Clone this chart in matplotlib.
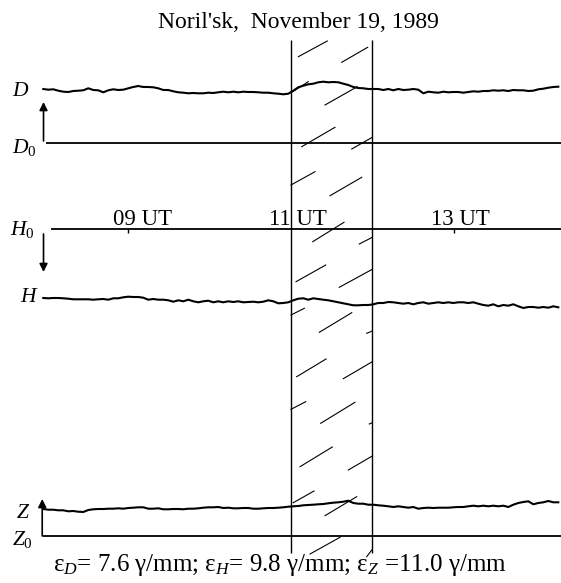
import numpy as np
import matplotlib.pyplot as plt

plt.rcParams['font.family'] = ['Liberation Serif', 'DejaVu Serif']
plt.rcParams['mathtext.fontset'] = 'custom'
plt.rcParams['mathtext.rm'] = 'Liberation Serif'
plt.rcParams['mathtext.it'] = 'Liberation Serif:italic'

# magnetogram traces digitized every ~0.06 h (5 px of the record)
ut = np.linspace(7.953, 14.288, 104)

# D: deflection upward from D0 line (px of record)
d_trace = [54.3, 53.6, 54.0, 52.6, 51.6, 51.3, 52.3, 52.6, 53.0, 55.0,
           53.3, 53.0, 51.0, 53.0, 54.0, 53.3, 53.6, 55.0, 56.3, 57.3,
           56.3, 56.3, 56.0, 55.0, 53.3, 53.3, 52.0, 51.0, 50.6, 50.0,
           50.3, 50.0, 50.0, 50.6, 50.3, 51.0, 51.6, 51.0, 51.6, 51.0,
           51.6, 51.3, 51.3, 51.0, 50.6, 50.6, 50.0, 49.6, 49.0, 49.6,
           52.6,
           56.0, 57.6, 59.0, 59.6, 61.0, 61.6, 61.0, 61.3, 61.0, 59.6,
           58.3, 56.3, 55.3, 55.0, 54.3, 54.3, 54.3, 53.3, 54.3, 53.0,
           54.3, 53.3, 53.6, 54.3, 53.6, 50.0, 51.6, 51.0, 50.6, 51.6,
           51.0, 51.3, 51.3, 50.6, 51.3, 52.0, 51.6, 52.3, 52.3, 53.0,
           52.6, 53.0, 52.3, 53.3, 53.0, 53.0, 52.3, 52.6, 54.0, 54.6,
           55.6, 56.3, 56.6]

# H: deflection downward from H0 line
h_trace = [69.3, 69.6, 69.3, 69.3, 69.6, 70.0, 70.6, 70.6, 70.6, 70.6,
           71.0, 70.6, 70.3, 71.0, 69.6, 69.6, 68.6, 68.0, 68.3, 68.3,
           69.0, 71.0, 70.3, 71.0, 71.0, 71.6, 73.0, 71.6, 72.6, 71.0,
           72.6, 73.6, 72.6, 72.0, 73.6, 72.6, 73.6, 72.6, 73.3, 72.6,
           73.6, 73.3, 73.0, 73.6, 73.0, 71.6, 72.6, 74.6, 74.3, 73.6,
           71.6,
           70.0, 69.6, 71.0, 69.6, 70.3, 71.0, 71.6, 72.6, 73.6, 74.6,
           75.6, 76.6, 76.6, 76.3, 76.3, 75.6, 74.3, 74.3, 73.3, 73.6,
           74.3, 75.0, 74.3, 75.6, 74.3, 73.6, 75.0, 74.3, 73.6, 74.3,
           73.6, 74.3, 73.6, 73.6, 74.3, 73.6, 75.0, 76.3, 77.0, 75.6,
           77.6, 76.3, 77.0, 75.6, 77.6, 79.3, 78.3, 78.3, 79.0, 78.3,
           79.0, 77.6, 78.6]

# Z: deflection upward from Z0 line
z_trace = [27.0, 26.3, 26.3, 25.7, 25.7, 24.7, 25.0, 24.3, 24.0, 26.0,
           26.7, 27.0, 27.0, 27.3, 27.3, 27.7, 27.3, 28.0, 28.3, 28.7,
           28.7, 27.3, 27.3, 27.7, 26.7, 26.7, 27.0, 27.0, 26.7, 27.3,
           27.3, 27.7, 28.3, 28.7, 28.7, 29.0, 28.0, 28.3, 27.7, 27.7,
           28.0, 28.0, 27.3, 27.3, 27.7, 28.0, 28.0, 28.3, 28.7, 29.3,
           29.7,
           30.0, 30.7, 31.0, 31.3, 31.7, 32.0, 32.7, 33.3, 33.7, 34.3,
           35.3, 33.0, 32.3, 32.3, 31.3, 31.3, 30.7, 30.3, 29.7, 29.0,
           29.7, 29.0, 28.3, 29.0, 27.3, 28.0, 28.3, 28.0, 28.3, 28.3,
           28.3, 28.7, 29.0, 29.0, 29.7, 30.3, 29.7, 30.3, 29.7, 30.3,
           29.7, 30.3, 29.0, 31.3, 33.0, 34.0, 34.7, 31.7, 33.0, 33.7,
           35.0, 33.7, 33.7]

storm_start, storm_end = 11.0, 12.0
hour_ticks = [9, 11, 13]
hour_labels = ['09 UT', '11 UT', '13 UT']

# slanted hatch strokes inside the 11-12 UT band (time, record px)
hatch_t0 = [11.090, 11.624, 11.021, 11.418, 11.132, 11.747, 11.0, 11.480, 11.267,
            11.840, 11.062, 11.594, 11.0, 11.348, 11.931, 11.070, 11.643, 11.0,
            11.365, 11.963, 11.111, 11.705, 11.028, 11.418, 11.234, 11.931]
hatch_y0 = [56.7, 62.3, 91.7, 105.0, 146.7, 149.0, 185.0, 195.7, 241.7,
            244.0, 281.7, 287.3, 315.0, 332.3, 333.3, 376.7, 378.7, 409.3,
            423.3, 424.0, 466.7, 470.0, 502.7, 515.7, 554.0, 556.7]
hatch_t1 = [11.446, 11.943, 11.213, 11.815, 11.541, 12.0, 11.295, 11.870, 11.652,
            12.0, 11.427, 12.0, 11.164, 11.747, 12.0, 11.431, 12.0, 11.181,
            11.787, 12.0, 11.508, 12.0, 11.283, 11.808, 11.603, 12.0]
hatch_y1 = [41.0, 47.3, 81.7, 86.7, 127.3, 137.3, 171.7, 177.3, 222.3,
            237.3, 265.0, 269.3, 308.3, 312.7, 331.0, 359.0, 361.7, 401.7,
            402.3, 422.7, 447.0, 456.0, 491.0, 496.7, 537.3, 549.3]

D0, H0, Z0 = 143.3, 228.7, 536.0
x_left, x_right = 7.4207, 14.321

fig = plt.figure(figsize=(5.61, 5.83), dpi=100)
ax = fig.add_axes([0, 0, 1, 1])
ax.set_xlim(x_left, x_right)
ax.set_ylim(583, 0)
ax.axis('off')

# traces
ax.plot(ut, D0 - np.array(d_trace), color='k', lw=1.5)
ax.plot(ut, H0 + np.array(h_trace), color='k', lw=1.5)
ax.plot(ut, Z0 - np.array(z_trace), color='k', lw=1.5)

# baselines
ax.hlines([D0, H0, Z0], [7.99, 8.05, 7.95], x_right, color='k', lw=1.3)

# storm band
ax.vlines([storm_start, storm_end], 40, 553, color='k', lw=1.0)
for a, b, c, d in zip(hatch_t0, hatch_y0, hatch_t1, hatch_y1):
    ax.plot([a, c], [b, d], color='k', lw=0.8)

# time ticks on H0 line
ax.vlines([t for t in hour_ticks if t != storm_start], H0, H0 + 4, color='k', lw=1.0)
for t, lab, sh in zip(hour_ticks, hour_labels, [0.17, 0.08, 0.08]):
    ax.text(t + sh, H0 - 4, lab, ha='center', va='baseline', fontsize=16.5)

# direction arrows
arrow = dict(arrowstyle='-|>', color='k', lw=1.2, mutation_scale=12,
             shrinkA=0, shrinkB=0)
ax.annotate('', xy=(7.956, 102), xytext=(7.956, 141), arrowprops=arrow)
ax.annotate('', xy=(7.956, 272), xytext=(7.956, 234), arrowprops=arrow)
ax.annotate('', xy=(7.94, 499), xytext=(7.94, 536), arrowprops=arrow)

# component labels
ax.text(7.574, 91, '$D$', ha='left', va='center', fontsize=15.5)
ax.text(7.574, 147, '$D_0$', ha='left', va='center', fontsize=15.5)
ax.text(7.544, 230, '$H_0$', ha='left', va='center', fontsize=15.5)
ax.text(7.662, 298, '$H$', ha='left', va='center', fontsize=15.5)
ax.text(7.617, 514, '$Z$', ha='left', va='center', fontsize=15.5)
ax.text(7.574, 540, '$Z_0$', ha='left', va='center', fontsize=15.5)

fig.text(298 / 561, 1 - 28 / 583, "Noril'sk,  November 19, 1989",
         ha='center', va='baseline', fontsize=17)
fig.text(280 / 561, 1 - 571 / 583,
         'ε$_D$= 7.6 γ/mm; ε$_H$= 9.8 γ/mm; ε$_Z$ =11.0 γ/mm',
         ha='center', va='baseline', fontsize=18)

fig.savefig('out.png', dpi=100)
